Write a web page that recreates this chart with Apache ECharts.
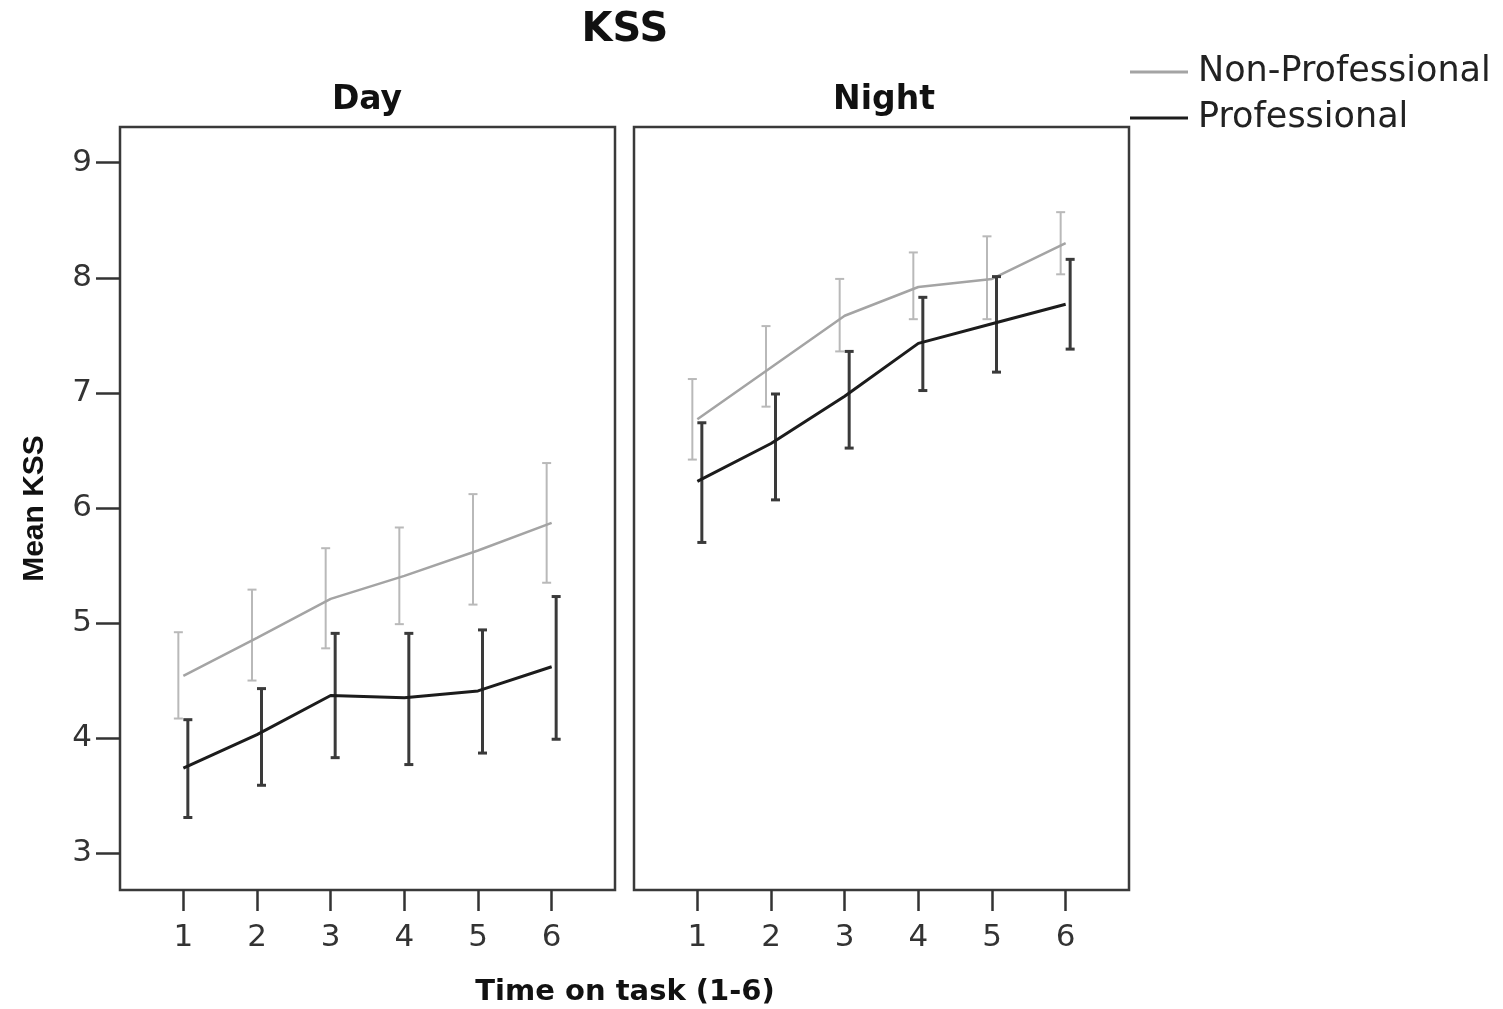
<!DOCTYPE html>
<html>
<head>
<meta charset="utf-8">
<style>
  html, body { margin: 0; padding: 0; background: #fff; }
  #chart { width: 1503px; height: 1009px; }
</style>
<script src="https://cdn.jsdelivr.net/npm/echarts@6.0.0/dist/echarts.min.js"></script>
</head>
<body>
<div id="chart"></div>
<script>
const timeSteps = [1, 2, 3, 4, 5, 6];
const yTicks = [3, 4, 5, 6, 7, 8, 9];
const groupNames = ['Non-Professional', 'Professional'];
const panelNames = ['Day', 'Night'];

const dayNonProMean = [4.54, 4.87, 5.21, 5.41, 5.63, 5.87];
const dayNonProLow  = [4.17, 4.50, 4.78, 4.99, 5.16, 5.35];
const dayNonProHigh = [4.92, 5.29, 5.65, 5.83, 6.12, 6.39];

const dayProMean = [3.74, 4.03, 4.37, 4.35, 4.41, 4.62];
const dayProLow  = [3.31, 3.59, 3.83, 3.77, 3.87, 3.99];
const dayProHigh = [4.16, 4.43, 4.91, 4.91, 4.94, 5.23];

const nightNonProMean = [6.77, 7.22, 7.67, 7.92, 7.99, 8.30];
const nightNonProLow  = [6.42, 6.88, 7.36, 7.64, 7.64, 8.03];
const nightNonProHigh = [7.12, 7.58, 7.99, 8.22, 8.36, 8.57];

const nightProMean = [6.23, 6.56, 6.97, 7.43, 7.60, 7.77];
const nightProLow  = [5.70, 6.07, 6.52, 7.02, 7.18, 7.38];
const nightProHigh = [6.74, 6.99, 7.36, 7.83, 8.01, 8.16];

const FONT = 'DejaVu Sans';
const GRAY_LINE = '#a4a4a4';
const GRAY_BAR = '#b9b9b9';
const DARK_LINE = '#1c1c1c';
const DARK_BAR = '#3a3a3a';

function pts(means) { return timeSteps.map((t, i) => [t, means[i]]); }
function bars(lows, highs) { return timeSteps.map((t, i) => [t, lows[i], highs[i]]); }

function errRender(offset, color, width) {
  return function (params, api) {
    const x = api.value(0), lo = api.value(1), hi = api.value(2);
    const p1 = api.coord([x, hi]);
    const p2 = api.coord([x, lo]);
    const cx = p1[0] + offset;
    const cap = 4.5;
    const st = { stroke: color, lineWidth: width };
    return {
      type: 'group',
      children: [
        { type: 'line', shape: { x1: cx, y1: p1[1], x2: cx, y2: p2[1] }, style: st },
        { type: 'line', shape: { x1: cx - cap, y1: p1[1], x2: cx + cap, y2: p1[1] }, style: st },
        { type: 'line', shape: { x1: cx - cap, y1: p2[1], x2: cx + cap, y2: p2[1] }, style: st }
      ]
    };
  };
}

function xAxisDef(idx) {
  return {
    type: 'value', gridIndex: idx, min: 0.14, max: 6.86,
    axisLine: { show: false },
    splitLine: { show: false },
    axisTick: { show: true, length: 21, customValues: timeSteps, lineStyle: { color: '#333', width: 2.5 } },
    axisLabel: { show: true, customValues: timeSteps, margin: 32, fontSize: 31, fontFamily: FONT, color: '#333' }
  };
}

function yAxisDef(idx, showLabels) {
  return {
    type: 'value', gridIndex: idx, min: 2.68, max: 9.31,
    axisLine: { show: false },
    splitLine: { show: false },
    axisTick: { show: showLabels, length: 24, customValues: yTicks, lineStyle: { color: '#333', width: 2.5 } },
    axisLabel: { show: showLabels, customValues: yTicks, margin: 28, fontSize: 31, fontFamily: FONT, color: '#333', padding: [4, 0, 0, 0] },
    name: showLabels ? 'Mean KSS' : '',
    nameLocation: 'middle',
    nameRotate: 90,
    nameGap: 70,
    nameTextStyle: { fontSize: 30, fontWeight: 'bold', fontFamily: 'Liberation Sans', color: '#111' }
  };
}

const panels = [
  { np: [dayNonProMean, dayNonProLow, dayNonProHigh], p: [dayProMean, dayProLow, dayProHigh] },
  { np: [nightNonProMean, nightNonProLow, nightNonProHigh], p: [nightProMean, nightProLow, nightProHigh] }
];

const series = [];
panels.forEach((pn, i) => {
  series.push({
    type: 'custom', coordinateSystem: 'cartesian2d', xAxisIndex: i, yAxisIndex: i,
    renderItem: errRender(-5, GRAY_BAR, 2), encode: { x: 0, y: [1, 2] },
    data: bars(pn.np[1], pn.np[2]), silent: true, z: 2
  });
  series.push({
    type: 'line', name: groupNames[0], xAxisIndex: i, yAxisIndex: i,
    data: pts(pn.np[0]), symbol: 'none', lineStyle: { color: GRAY_LINE, width: 2.5 },
    itemStyle: { color: GRAY_LINE }, z: 3
  });
  series.push({
    type: 'custom', coordinateSystem: 'cartesian2d', xAxisIndex: i, yAxisIndex: i,
    renderItem: errRender(4.5, DARK_BAR, 3), encode: { x: 0, y: [1, 2] },
    data: bars(pn.p[1], pn.p[2]), silent: true, z: 4
  });
  series.push({
    type: 'line', name: groupNames[1], xAxisIndex: i, yAxisIndex: i,
    data: pts(pn.p[0]), symbol: 'none', lineStyle: { color: DARK_LINE, width: 3 },
    itemStyle: { color: DARK_LINE }, z: 5
  });
});

const chart = echarts.init(document.getElementById('chart'), null, { renderer: 'canvas' });
chart.setOption({
  backgroundColor: '#fff',
  animation: false,
  title: [
    { text: 'KSS', left: 620, top: 6, textAlign: 'center', textStyle: { fontSize: 40, fontWeight: 'bold', fontFamily: FONT, color: '#111' } },
    { text: panelNames[0], left: 362, top: 79, textAlign: 'center', textStyle: { fontSize: 33, fontWeight: 'bold', fontFamily: FONT, color: '#111' } },
    { text: panelNames[1], left: 879, top: 79, textAlign: 'center', textStyle: { fontSize: 33, fontWeight: 'bold', fontFamily: FONT, color: '#111' } },
    { text: 'Time on task (1-6)', left: 620, top: 973, textAlign: 'center', textStyle: { fontSize: 29, fontWeight: 'bold', fontFamily: FONT, color: '#111' } }
  ],
  legend: {
    data: groupNames,
    orient: 'vertical',
    left: 1130,
    top: 54,
    icon: 'rect',
    itemWidth: 58,
    itemHeight: 3,
    itemGap: 10,
    padding: 0,
    textStyle: { fontSize: 35, fontFamily: FONT, color: '#222', lineHeight: 36, padding: [0, 0, 0, 5] }
  },
  grid: [
    { left: 120, top: 127, width: 495, height: 763, show: true, borderColor: '#3a3a3a', borderWidth: 2.5, backgroundColor: 'transparent' },
    { left: 634, top: 127, width: 495, height: 763, show: true, borderColor: '#3a3a3a', borderWidth: 2.5, backgroundColor: 'transparent' }
  ],
  xAxis: [xAxisDef(0), xAxisDef(1)],
  yAxis: [yAxisDef(0, true), yAxisDef(1, false)],
  series: series
});
</script>
</body>
</html>
